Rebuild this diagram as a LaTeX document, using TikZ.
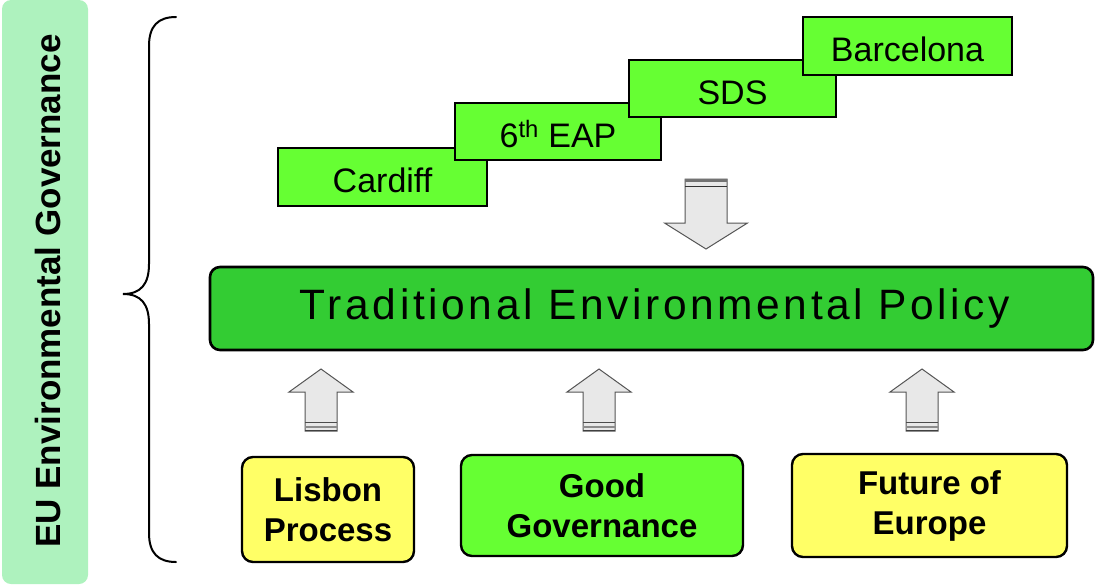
\documentclass[tikz,border=0pt]{standalone}
\usepackage{fontspec}
\setmainfont{Liberation Sans}
\newfontfamily\spacedfont[LetterSpace=8.5]{Liberation Sans}
\definecolor{brightgreen}{HTML}{66FF33}
\definecolor{policygreen}{HTML}{33CC33}
\definecolor{paleyellow}{HTML}{FFFF66}
\definecolor{barmint}{HTML}{AEF2BE}
\definecolor{arrowfill}{HTML}{E8E8E8}
\definecolor{arrowedge}{HTML}{555555}
\tikzset{
  stagebox/.style={draw=black, line width=2.4pt, fill=brightgreen, inner sep=0pt,
    text height=31pt, text depth=0pt, font=\fontsize{34}{40}\selectfont},
  sourcebox/.style={draw=black, line width=2.4pt, rounded corners=11pt, inner sep=0pt,
    align=center, font=\fontsize{33}{40}\selectfont\bfseries},
  arrowbody/.style={draw=arrowedge, line width=1pt, fill=arrowfill, line join=miter},
  uparrow/.pic={
    \draw[arrowbody] (0,369) -- (32,392) -- (16,392) -- (16,431) -- (-16,431)
      -- (-16,392) -- (-32,392) -- cycle;
    \draw[line width=1.6pt, draw=black!70] (-16,422.5) -- (16,422.5);
    \draw[line width=1.4pt, draw=black!45] (-16,427) -- (16,427);
    \draw[line width=1pt, draw=black!75] (-16,430.5) -- (16,430.5);
  },
  downarrow/.pic={
    \draw[arrowbody] (-21,179) -- (21,179) -- (21,223) -- (41.5,223) -- (0,249)
      -- (-41.5,223) -- (-21,223) -- cycle;
    \draw[line width=2.6pt, draw=black!55] (-21,180.5) -- (21,180.5);
    \draw[line width=1pt, draw=black!80] (-21,186.5) -- (21,186.5);
  }
}
\begin{document}
\begin{tikzpicture}[x=1pt,y=-1pt]
\useasboundingbox (0,0) rectangle (1095,584);

% side label bar
\node[fill=barmint, rounded corners=9pt, minimum width=86pt, minimum height=584pt,
  inner sep=0pt] (side) at (45,292) {};
\node[rotate=90, font=\fontsize{35}{40}\selectfont\bfseries] (sidelabel) at (48,291)
  {EU Environmental Governance};

% curly brace spanning the whole scheme
\draw[line width=2pt, line cap=round] (176,17) .. controls (158,17) and (149,26) .. (149,46)
  -- (149,264) .. controls (149,284) and (141,294) .. (123,294)
  .. controls (141,294) and (149,304) .. (149,324)
  -- (149,533) .. controls (149,553) and (158,562) .. (176,562);

% staircase of milestones (each later step drawn over the previous one)
\node[stagebox, minimum width=209pt, minimum height=58pt] (cardiff) at (382.5,177) {Cardiff};
\node[stagebox, minimum width=206pt, minimum height=57pt] (eap) at (558,131.5)
  {6\textsuperscript{th} EAP};
\node[stagebox, minimum width=207pt, minimum height=57pt] (sds) at (732.5,88.5) {SDS};
\node[stagebox, minimum width=209pt, minimum height=58pt] (barcelona) at (907.5,46) {Barcelona};

% central policy box
\node[draw=black, line width=2.6pt, fill=policygreen, rounded corners=10pt,
  minimum width=883pt, minimum height=83pt, inner sep=0pt] (tep) at (651.5,308.5) {};
\node[font=\fontsize{42.5}{48}\selectfont\spacedfont] (teptext) at (655,309)
  {Traditional Environmental Policy};

% influencing processes
\node[sourcebox, fill=paleyellow, minimum width=172pt, minimum height=105pt] (lisbon)
  at (328,509.5) {Lisbon\\Process};
\node[sourcebox, fill=brightgreen, minimum width=282pt, minimum height=101pt] (good)
  at (602,505.5) {Good\\Governance};
\node[sourcebox, fill=paleyellow, minimum width=275pt, minimum height=103pt] (future)
  at (929.5,505.5) {Future of\\Europe};

% block arrows
\pic at (706,0) {downarrow};
\pic at (321,0) {uparrow};
\pic at (599,0) {uparrow};
\pic at (922,0) {uparrow};
\end{tikzpicture}
\end{document}
